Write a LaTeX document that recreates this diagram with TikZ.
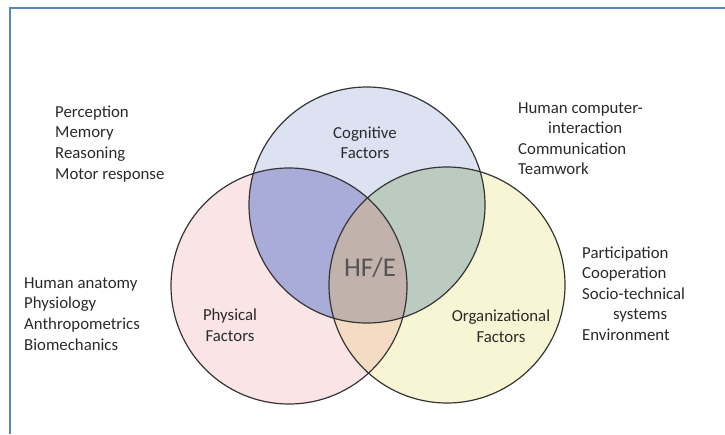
\documentclass[tikz,border=0pt]{standalone}
\usepackage{fontspec}
\setmainfont{Carlito}
\usepackage{tikz}
\usetikzlibrary{positioning}

\definecolor{frameblue}{HTML}{5A86C3}
\definecolor{linegray}{HTML}{353535}
\definecolor{textgray}{HTML}{2A2A2A}
\definecolor{cogfill}{HTML}{DDE2F3}
\definecolor{phyfill}{HTML}{FBE4E6}
\definecolor{orgfill}{HTML}{F8F5D5}
\definecolor{cogphy}{HTML}{A9ABD9}
\definecolor{cogorg}{HTML}{BCCBBF}
\definecolor{phyorg}{HTML}{F3DCC2}
\definecolor{allthree}{HTML}{C1B2AB}

\tikzstyle{outline} = [draw=linegray, line width=1.2pt]
\tikzstyle{factor} = [align=center, font=\fontsize{16.8}{20.5}\selectfont, text=textgray, inner sep=0pt]
\tikzstyle{listline} = [anchor=base west, font=\fontsize{16.8}{20.5}\selectfont, text=textgray, inner sep=0pt]

\newcommand{\cogshape}{(367,-205) circle [radius=118]}
\newcommand{\physhape}{(289,-286) circle [radius=118]}
\newcommand{\orgshape}{(447,-285) circle [radius=118]}

\begin{document}
\begin{tikzpicture}[x=1pt, y=1pt]

\useasboundingbox (0,0) rectangle (725,-434);
\draw [frameblue, line width=2pt] (10,-434) -- (10,-8) -- (725,-8);

% circles
\fill [cogfill] \cogshape;
\fill [phyfill] \physhape;
\fill [orgfill] \orgshape;
\begin{scope}
\clip \cogshape;
\fill [cogphy] \physhape;
\fill [cogorg] \orgshape;
\end{scope}
\begin{scope}
\clip \physhape;
\fill [phyorg] \orgshape;
\clip \orgshape;
\fill [allthree] \cogshape;
\end{scope}
\draw [outline] \cogshape;
\draw [outline] \physhape;
\draw [outline] \orgshape;

% factor labels
\node (cog) [factor] at (365,-143) {Cognitive\\Factors};
\node (phy) [factor] at (230,-325) {Physical\\Factors};
\node (org) [factor] at (501,-326) {Organizational\\Factors};
\node (hfe) [anchor=base, inner sep=0pt, font=\fontsize{27}{30}\selectfont, text=textgray!80] at (370,-276) {HF/E};

% lists
\foreach \txt [count=\i] in {Perception, Memory, Reasoning, Motor response}
  \node (cogitem\i) [listline] at (55,-117-20.7*\i+20.7) {\txt};
\foreach \txt [count=\i] in {Human computer-, \hspace*{30pt}interaction, Communication, Teamwork}
  \node (hciitem\i) [listline] at (518,-113-20.5*\i+20.5) {\txt};
\foreach \txt [count=\i] in {Human anatomy, Physiology, Anthropometrics, Biomechanics}
  \node (phyitem\i) [listline] at (24,-288-20.7*\i+20.7) {\txt};
\foreach \txt [count=\i] in {Participation, Cooperation, Socio-technical, \hspace*{31pt}systems, Environment}
  \node (orgitem\i) [listline] at (582,-258-20.5*\i+20.5) {\txt};

\end{tikzpicture}
\end{document}
